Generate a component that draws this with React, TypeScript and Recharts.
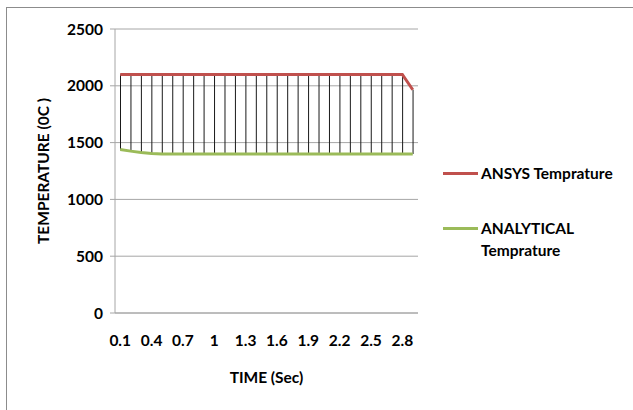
import React from 'react';
import { ComposedChart, Line, Bar, XAxis, YAxis, CartesianGrid } from 'recharts';

const times = [
  '0.1', '0.2', '0.3', '0.4', '0.5', '0.6', '0.7', '0.8', '0.9', '1',
  '1.1', '1.2', '1.3', '1.4', '1.5', '1.6', '1.7', '1.8', '1.9', '2',
  '2.1', '2.2', '2.3', '2.4', '2.5', '2.6', '2.7', '2.8', '2.9',
];

const ansys = [
  2100, 2100, 2100, 2100, 2100, 2100, 2100, 2100, 2100, 2100,
  2100, 2100, 2100, 2100, 2100, 2100, 2100, 2100, 2100, 2100,
  2100, 2100, 2100, 2100, 2100, 2100, 2100, 2100, 1965,
];

const analytical = [
  1440, 1425, 1413, 1405, 1400, 1400, 1400, 1400, 1400, 1400,
  1400, 1400, 1400, 1400, 1400, 1400, 1400, 1400, 1400, 1400,
  1400, 1400, 1400, 1400, 1400, 1400, 1400, 1400, 1400,
];

const yTicks = [0, 500, 1000, 1500, 2000, 2500];

const data = times.map((t, i) => ({
  time: t,
  ansys: ansys[i],
  analytical: analytical[i],
  span: [analytical[i], ansys[i]],
}));

const FONT = 'Lato, "Open Sans", sans-serif';
const FS = 15.5;

const LegendBox: React.FC = () => (
  <div style={{ position: 'absolute', left: 443, top: 162, fontFamily: FONT, fontWeight: 700, fontSize: FS, color: '#000' }}>
    <div style={{ display: 'flex', alignItems: 'center', height: 22 }}>
      <div style={{ width: 35, height: 3, background: '#C0504D', marginRight: 3 }} />
      <span>ANSYS Temprature</span>
    </div>
    <div style={{ display: 'flex', alignItems: 'flex-start', marginTop: 33 }}>
      <div style={{ width: 35, height: 3, background: '#9BBB59', marginRight: 3, marginTop: 10 }} />
      <span style={{ lineHeight: '22px' }}>ANALYTICAL<br />Temprature</span>
    </div>
  </div>
);

const App: React.FC = () => {
  return (
    <div style={{ position: 'fixed', left: 0, top: 0, width: 633, height: 410, overflow: 'hidden', background: '#fff' }}>
      <div style={{ position: 'absolute', left: 6, top: 7, width: 700, height: 500, border: '1px solid #8c8c8c', boxSizing: 'border-box' }} />
      <div style={{ position: 'absolute', left: 0, top: 0 }}>
        <ComposedChart
          width={633}
          height={410}
          data={data}
          margin={{ top: 29, right: 215, left: 50, bottom: 67 }}
        >
          <CartesianGrid vertical={false} stroke="#a6a6a6" strokeWidth={1} />
          <XAxis
            dataKey="time"
            interval={2}
            tickLine={false}
            axisLine={{ stroke: '#a6a6a6' }}
            tick={{ fill: '#000', fontSize: FS, fontWeight: 700, fontFamily: FONT }}
            tickMargin={16}
            height={30}
            label={{ value: 'TIME (Sec)', position: 'bottom', offset: 29, fill: '#000', fontSize: FS, fontWeight: 700, fontFamily: FONT }}
          />
          <YAxis
            domain={[0, 2500]}
            ticks={yTicks}
            width={65}
            tickSize={5}
            tickLine={{ stroke: '#a6a6a6' }}
            axisLine={{ stroke: '#a6a6a6' }}
            tick={{ fill: '#000', fontSize: FS, fontWeight: 700, fontFamily: FONT }}
            tickMargin={7}
            label={{ value: 'TEMPERATURE (0C )', angle: -90, position: 'insideLeft', offset: -7, fill: '#000', fontSize: FS, fontWeight: 700, fontFamily: FONT, style: { textAnchor: 'middle' } }}
          />
          <Bar dataKey="span" barSize={1} fill="#1a1a1a" isAnimationActive={false} legendType="none" />
          <Line
            type="linear"
            dataKey="ansys"
            name="ANSYS Temprature"
            stroke="#C0504D"
            strokeWidth={3}
            dot={false}
            isAnimationActive={false}
          />
          <Line
            type="linear"
            dataKey="analytical"
            name="ANALYTICAL Temprature"
            stroke="#9BBB59"
            strokeWidth={3}
            dot={false}
            isAnimationActive={false}
          />
        </ComposedChart>
      </div>
      <LegendBox />
    </div>
  );
};

export default App;
